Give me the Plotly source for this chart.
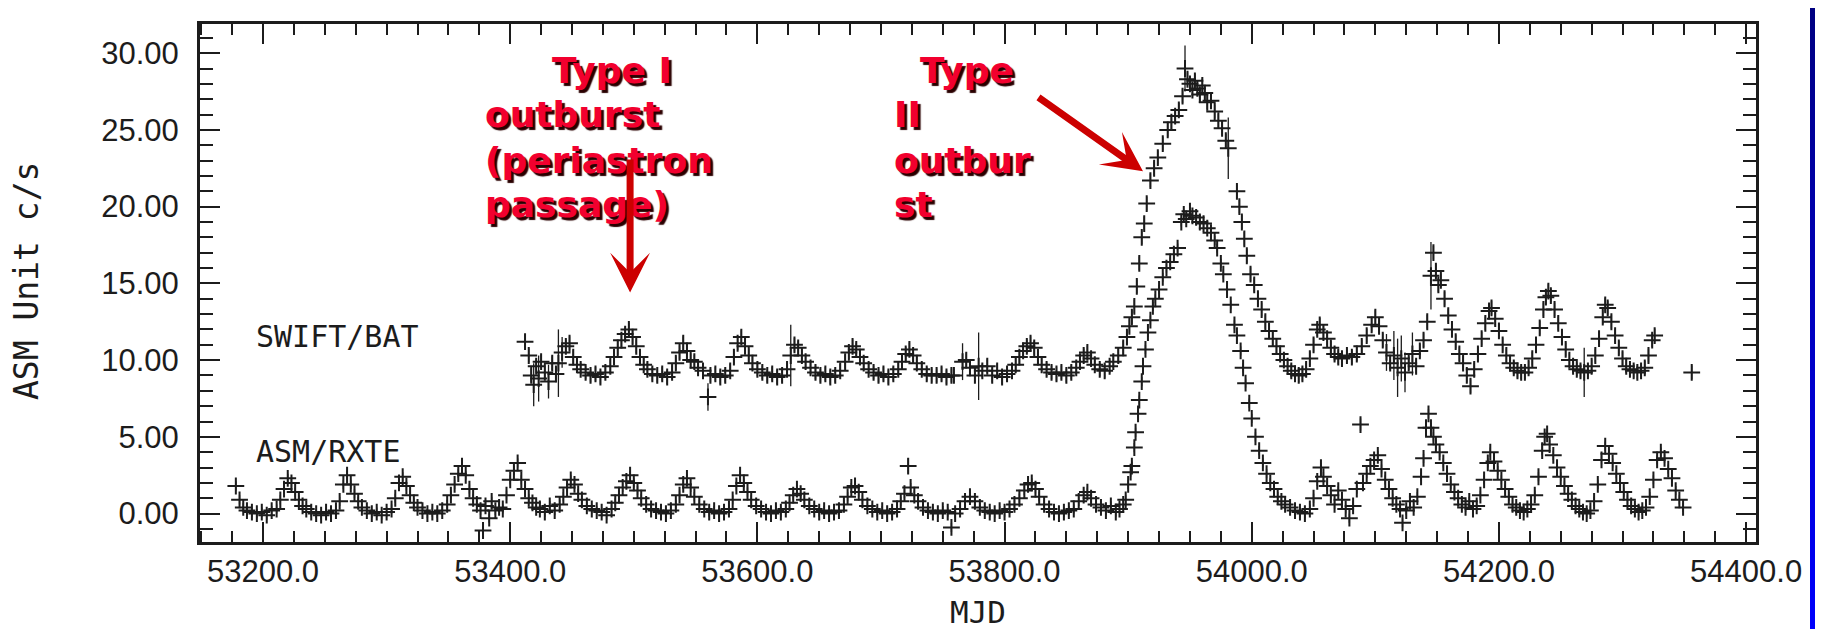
import plotly.graph_objects as go

# ---------------- data ----------------
asm_mjd = [
    53178, 53181, 53184, 53187, 53191, 53195, 53199, 53203, 53207, 53211, 53214, 53217, 53220, 53223, 53226, 53229,
    53232, 53235, 53239, 53243, 53247, 53251, 53255, 53259, 53262, 53265, 53268, 53271, 53274, 53277, 53280, 53284,
    53288, 53292, 53296, 53300, 53304, 53307, 53310, 53313, 53316, 53319, 53322, 53325, 53329, 53333, 53337, 53341,
    53345, 53349, 53352, 53355, 53358, 53361, 53364, 53367, 53370, 53373, 53376, 53378, 53380, 53383, 53385, 53388,
    53391, 53394, 53397, 53400, 53403, 53406, 53409, 53412, 53415, 53418, 53421, 53424, 53428, 53432, 53436, 53440,
    53443, 53446, 53449, 53452, 53455, 53458, 53462, 53466, 53470, 53474, 53478, 53482, 53485, 53488, 53491, 53494,
    53497, 53500, 53503, 53506, 53510, 53514, 53518, 53522, 53526, 53530, 53534, 53537, 53540, 53543, 53546, 53549,
    53553, 53557, 53561, 53565, 53569, 53573, 53577, 53580, 53583, 53586, 53589, 53592, 53595, 53599, 53603, 53607,
    53611, 53615, 53619, 53623, 53626, 53629, 53632, 53635, 53638, 53642, 53646, 53650, 53654, 53658, 53662, 53666,
    53670, 53673, 53676, 53679, 53682, 53685, 53689, 53693, 53697, 53701, 53705, 53709, 53713, 53716, 53719, 53722,
    53724, 53727, 53730, 53734, 53738, 53742, 53746, 53750, 53754, 53757, 53760, 53764, 53768, 53772, 53776, 53780,
    53784, 53788, 53792, 53796, 53800, 53804, 53808, 53812, 53816, 53819, 53822, 53825, 53828, 53832, 53836, 53840,
    53844, 53848, 53852, 53856, 53860, 53864, 53867, 53870, 53874, 53878, 53882, 53886, 53890, 53893, 53896, 53898,
    53900, 53902, 53903, 53905, 53906, 53908, 53909, 53911, 53912, 53914, 53916, 53918, 53920, 53922, 53925, 53928,
    53931, 53934, 53937, 53940, 53943, 53945, 53947, 53950, 53952, 53955, 53958, 53961, 53964, 53967, 53970, 53972,
    53975, 53977, 53980, 53983, 53986, 53988, 53991, 53993, 53995, 53998, 54000, 54003, 54006, 54009, 54012, 54015,
    54018, 54021, 54024, 54027, 54031, 54035, 54039, 54043, 54047, 54050, 54053, 54056, 54058, 54061, 54064, 54067,
    54070, 54073, 54076, 54079, 54082, 54085, 54088, 54090, 54093, 54096, 54099, 54102, 54105, 54108, 54111, 54114,
    54117, 54120, 54122, 54125, 54128, 54131, 54134, 54137, 54139, 54141, 54143, 54145, 54147, 54149, 54152, 54155,
    54158, 54161, 54164, 54167, 54170, 54173, 54176, 54179, 54182, 54185, 54188, 54191, 54193, 54196, 54199, 54202,
    54205, 54208, 54211, 54214, 54217, 54220, 54223, 54226, 54229, 54232, 54235, 54237, 54239, 54241, 54244, 54247,
    54250, 54253, 54256, 54259, 54262, 54265, 54268, 54271, 54274, 54277, 54280, 54283, 54286, 54289, 54292, 54295,
    54298, 54301, 54304, 54307, 54310, 54313, 54316, 54319, 54322, 54325, 54328, 54331, 54334, 54337, 54340, 54343,
    54346, 54349,
]
asm_rate = [
    1.8, 0.9, 0.4, 0.2, 0.1, 0.0, 0.1, -0.1, 0.2, 0.3, 0.9, 1.6, 2.3, 2.0, 1.4, 0.9,
    0.5, 0.3, 0.1, 0.0, -0.1, 0.1, 0.0, 0.2, 0.8, 1.9, 2.5, 1.9, 1.3, 0.8, 0.4, 0.2,
    0.0, 0.1, -0.1, 0.1, 0.3, 1.0, 2.0, 2.4, 1.8, 1.2, 0.7, 0.4, 0.2, 0.0, 0.1, 0.0,
    0.2, 0.6, 1.2, 1.9, 2.6, 3.1, 2.5, 1.6, 1.0, 0.6, 0.2, -1.1, 0.5, -0.3, 0.8, 0.2,
    0.4, 0.3, 1.2, 2.2, 2.8, 3.3, 2.2, 1.6, 1.0, 0.7, 0.4, 0.3, 0.1, 0.5, 0.2, 0.6,
    1.1, 1.7, 2.2, 1.9, 1.3, 0.9, 0.5, 0.3, 0.2, 0.1, -0.1, 0.3, 0.7, 1.2, 1.7, 2.1,
    2.5, 2.0, 1.5, 1.0, 0.6, 0.3, 0.2, 0.1, 0.0, 0.2, 0.6, 1.2, 1.9, 2.3, 1.7, 1.1,
    0.6, 0.3, 0.1, 0.2, 0.0, 0.1, 0.3, 0.9, 1.8, 2.5, 2.0, 1.4, 0.9, 0.5, 0.3, 0.1,
    0.0, 0.2, 0.1, 0.3, 0.7, 1.2, 1.6, 1.3, 0.9, 0.5, 0.3, 0.1, 0.2, 0.0, 0.1, 0.2,
    0.6, 1.1, 1.7, 1.8, 1.4, 0.9, 0.5, 0.3, 0.1, 0.2, 0.0, 0.1, 0.3, 0.8, 1.3, 3.1,
    1.7, 1.2, 0.8, 0.4, 0.2, 0.1, 0.0, 0.2, 0.1, -0.9, 0.0, 0.3, 0.8, 1.1, 0.8, 0.4,
    0.2, 0.1, 0.0, 0.2, 0.1, 0.3, 0.6, 1.0, 1.5, 1.9, 2.0, 1.6, 1.1, 0.6, 0.3, 0.1,
    0.0, 0.1, 0.2, 0.3, 0.8, 1.2, 1.4, 1.0, 0.6, 0.4, 0.2, 0.5, 0.1, 0.3, 0.6, 0.9,
    1.9, 2.7, 3.1, 4.3, 5.3, 6.5, 7.4, 8.6, 9.6, 10.7, 11.8, 12.6, 13.5, 14.0, 14.6, 15.4,
    16.0, 16.4, 16.9, 17.3, 19.0, 19.5, 19.2, 19.7, 19.4, 19.3, 19.0, 18.9, 18.6, 18.3, 17.8, 17.3,
    16.3, 15.6, 14.6, 13.6, 12.3, 11.6, 10.6, 9.5, 8.5, 7.2, 6.2, 5.0, 4.1, 3.3, 2.6, 2.0,
    1.6, 1.1, 0.8, 0.6, 0.4, 0.2, 0.1, 0.0, 0.3, 1.0, 2.1, 3.0, 2.4, 1.8, 1.2, 0.6,
    1.5, 0.9, 0.3, -0.3, 0.5, 1.6, 5.8, 2.0, 2.6, 3.1, 3.5, 3.8, 2.9, 2.2, 1.6, 1.0,
    0.6, 0.3, -0.6, 0.2, 0.8, 0.4, 1.1, 2.4, 3.6, 5.6, 6.5, 5.6, 5.0, 4.5, 4.0, 3.3,
    2.6, 1.9, 1.4, 1.0, 0.6, 0.4, 0.8, 0.3, 0.5, 1.2, 2.2, 3.3, 4.0, 3.4, 2.8, 2.2,
    1.6, 1.1, 0.6, 0.4, 0.2, 0.1, 0.3, 0.6, 1.2, 2.4, 4.1, 5.0, 5.2, 4.5, 3.8, 3.0,
    2.4, 1.8, 1.3, 0.9, 0.5, 0.3, 0.1, 0.0, 0.2, 0.8, 1.9, 3.5, 4.4, 3.9, 3.3, 2.6,
    2.0, 1.4, 0.9, 0.5, 0.3, 0.1, 0.2, 0.4, 1.1, 2.2, 3.5, 4.0, 3.6, 2.9, 2.3, 1.5,
    0.9, 0.4,
]

bat_mjd = [
    53412, 53415, 53417, 53419, 53421, 53423, 53425, 53428, 53431, 53434, 53437, 53439, 53442, 53445, 53448, 53451,
    53454, 53457, 53461, 53465, 53469, 53473, 53477, 53481, 53484, 53487, 53490, 53493, 53496, 53499, 53502, 53505,
    53508, 53511, 53515, 53519, 53523, 53527, 53531, 53534, 53537, 53540, 53543, 53546, 53549, 53552, 53556, 53560,
    53562, 53566, 53570, 53574, 53578, 53581, 53584, 53587, 53590, 53593, 53596, 53600, 53604, 53608, 53612, 53616,
    53620, 53624, 53627, 53630, 53633, 53636, 53639, 53643, 53647, 53651, 53655, 53659, 53663, 53667, 53671, 53674,
    53677, 53680, 53683, 53686, 53690, 53694, 53698, 53702, 53706, 53710, 53714, 53717, 53720, 53723, 53726, 53729,
    53733, 53737, 53741, 53745, 53749, 53753, 53757, 53759, 53766, 53769, 53772, 53776, 53779, 53782, 53786, 53790,
    53794, 53798, 53802, 53806, 53809, 53812, 53815, 53818, 53821, 53824, 53827, 53830, 53834, 53838, 53842, 53846,
    53850, 53854, 53858, 53861, 53864, 53867, 53870, 53873, 53877, 53881, 53885, 53888, 53892, 53896, 53899, 53901,
    53903, 53905, 53907, 53909, 53911, 53913, 53915, 53918, 53921, 53924, 53928, 53932, 53935, 53938, 53941, 53944,
    53946, 53948, 53950, 53952, 53954, 53956, 53958, 53960, 53962, 53964, 53967, 53970, 53973, 53976, 53979, 53981,
    53988, 53990, 53992, 53994, 53996, 53999, 54002, 54005, 54008, 54011, 54014, 54017, 54020, 54023, 54026, 54029,
    54032, 54035, 54038, 54041, 54044, 54047, 54050, 54053, 54055, 54058, 54061, 54064, 54067, 54070, 54073, 54077,
    54081, 54085, 54089, 54093, 54097, 54100, 54103, 54106, 54109, 54112, 54115, 54118, 54121, 54124, 54127, 54130,
    54133, 54136, 54139, 54142, 54145, 54147, 54149, 54151, 54153, 54156, 54159, 54162, 54165, 54168, 54171, 54174,
    54177, 54180, 54183, 54186, 54189, 54192, 54194, 54197, 54200, 54203, 54206, 54209, 54212, 54215, 54218, 54221,
    54224, 54227, 54230, 54233, 54236, 54238, 54240, 54242, 54245, 54248, 54251, 54254, 54257, 54260, 54263, 54266,
    54269, 54272, 54275, 54278, 54281, 54284, 54286, 54288, 54291, 54294, 54297, 54300, 54303, 54306, 54309, 54312,
    54315, 54318, 54321, 54324, 54326, 54356,
]
bat_rate = [
    11.2, 10.3, 9.0, 8.4, 9.6, 8.8, 9.9, 9.2, 8.6, 9.8, 9.1, 9.8, 10.5, 10.9, 11.1, 10.2,
    9.7, 9.4, 9.2, 9.0, 9.1, 8.9, 9.2, 9.6, 10.2, 10.8, 11.3, 11.7, 12.0, 11.5, 10.9, 10.2,
    9.7, 9.4, 9.1, 9.0, 9.1, 8.9, 9.2, 9.8, 10.5, 11.1, 10.6, 10.0, 9.9, 9.5, 9.3, 7.6,
    9.0, 9.1, 8.9, 9.0, 9.3, 10.2, 11.1, 11.5, 10.9, 10.3, 9.8, 9.4, 9.2, 9.0, 9.1, 8.9,
    9.0, 9.4, 10.3, 11.0, 10.8, 10.3, 9.9, 9.5, 9.2, 9.0, 9.1, 8.9, 9.0, 9.3, 9.9, 10.5,
    10.9, 10.7, 10.2, 9.8, 9.4, 9.2, 9.0, 9.1, 8.9, 9.1, 9.4, 9.9, 10.4, 10.7, 10.3, 9.8,
    9.4, 9.1, 9.0, 9.0, 9.1, 8.9, 9.0, 9.0, 9.9, 10.0, 9.5, 9.0, 9.6, 9.3, 9.6, 9.0,
    9.3, 8.9, 9.1, 9.3, 9.7, 10.2, 10.6, 10.9, 11.1, 10.8, 10.2, 9.7, 9.4, 9.2, 9.1, 9.2,
    9.0, 9.2, 9.5, 9.9, 10.3, 10.5, 10.1, 9.7, 9.4, 9.3, 9.6, 9.9, 10.3, 10.8, 11.5, 12.2,
    12.8, 13.5, 14.8, 16.3, 18.0, 18.9, 20.2, 21.7, 22.5, 23.2, 24.1, 25.0, 25.5, 25.9, 26.3, 27.2,
    29.0, 28.3, 28.0, 27.6, 28.2, 27.7, 27.3, 27.9, 27.4, 26.8, 26.9, 26.2, 25.6, 25.1, 24.3, 23.8,
    21.0, 20.0, 19.0, 17.9, 16.8, 15.6, 14.9, 14.0, 13.3, 12.5, 11.9, 11.4, 10.9, 10.4, 10.0, 9.6,
    9.3, 9.1, 9.0, 9.1, 9.4, 10.1, 11.0, 12.0, 12.3, 11.8, 11.4, 10.8, 10.4, 10.2, 10.1, 10.3,
    10.2, 10.4, 10.9, 11.6, 12.3, 12.8, 12.2, 11.3, 10.5, 9.8, 10.3, 9.5, 10.1, 9.2, 9.8, 10.4,
    9.6, 10.6, 11.3, 12.5, 15.5, 17.0, 15.8, 14.9, 15.2, 14.0, 12.9, 12.0, 11.2, 10.4, 9.8, 9.0,
    8.3, 9.4, 10.4, 11.4, 12.4, 13.2, 13.4, 12.7, 11.9, 11.0, 10.3, 9.8, 9.5, 9.3, 9.2, 9.2,
    9.5, 10.1, 11.0, 12.1, 13.3, 14.1, 14.5, 14.2, 13.3, 12.4, 11.5, 10.7, 10.0, 9.6, 9.4, 9.3,
    9.2, 9.3, 9.6, 10.3, 11.4, 12.8, 13.6, 13.4, 12.5, 11.6, 10.8, 10.1, 9.6, 9.4, 9.3, 9.2,
    9.3, 9.5, 10.3, 11.3, 11.6, 9.2,
]

# typical 1-sigma errors, plus the points with visibly long error bars
asm_err_typ = 0.3
asm_wide_err_mjd = [53722, 54088]
asm_wide_err = [0.5, 0.4]
bat_err_typ = 0.45
bat_wide_err_mjd = [53419, 53423, 53431, 53439, 53442, 53560, 53627, 53766, 53779, 53946,
                    53981, 54109, 54115, 54118, 54121, 54124, 54130, 54145, 54269]
bat_wide_err = [1.4, 1.5, 1.1, 2.2, 1.0, 0.9, 2.0, 1.2, 2.2, 1.5,
                2.0, 1.2, 1.6, 1.9, 1.5, 1.3, 1.4, 2.2, 1.6]

x_ticks = [53200, 53400, 53600, 53800, 54000, 54200, 54400]
y_ticks = [0, 5, 10, 15, 20, 25, 30]

# ---------------- figure ----------------
asm_wide = dict(zip(asm_wide_err_mjd, asm_wide_err))
bat_wide = dict(zip(bat_wide_err_mjd, bat_wide_err))
asm_err = [asm_wide.get(m, asm_err_typ) for m in asm_mjd]
bat_err = [bat_wide.get(m, bat_err_typ) for m in bat_mjd]

# the page body has an 8px margin: size the figure so the page does not overflow
OFF = 8
W, H = 1823 - 2 * OFF, 637 - 2 * OFF
# plot frame on screen: x 200..1756, y 24..542
L, T = 200 - OFF, 24 - OFF
PW, PH = 1556, 518
R, B = W - L - PW, H - T - PH


def px(sx):
    """screen x -> paper x"""
    return (sx - OFF - L) / PW


def py(sy):
    """screen y -> paper y"""
    return (T + PH - (sy - OFF)) / PH


ink = "#1c1c1c"
marker = dict(symbol="cross-thin", size=12, color=ink, line=dict(color=ink, width=2))

fig = go.Figure()
fig.add_trace(go.Scatter(
    x=asm_mjd, y=asm_rate, mode="markers", name="ASM/RXTE", marker=marker,
    error_y=dict(type="data", array=asm_err, thickness=1.3, width=0, color=ink),
))
fig.add_trace(go.Scatter(
    x=bat_mjd, y=bat_rate, mode="markers", name="SWIFT/BAT", marker=marker,
    error_y=dict(type="data", array=bat_err, thickness=1.3, width=0, color=ink),
))

# background: blue vertical gradient frame + white panel
shapes = []
nb = 48
for i in range(nb):
    t0 = i / nb
    t1 = (i + 1) / nb
    c = int(128 + 127 * (t0 + t1) / 2)
    shapes.append(dict(type="rect", xref="paper", yref="paper", layer="below",
                       x0=px(0), x1=px(1823), y0=py(t0 * 637 - 0.5), y1=py(t1 * 637 + 0.5),
                       fillcolor=f"rgb(0,0,{c})", line=dict(width=0)))
shapes.append(dict(type="rect", xref="paper", yref="paper", layer="below",
                   x0=px(0), x1=px(1810), y0=py(640), y1=py(0),
                   fillcolor="white", line=dict(width=0)))

tickfont = dict(family="Liberation Sans, Arial, sans-serif", size=31, color=ink)
mono = "DejaVu Sans Mono, Liberation Mono, monospace"
red = "#F2002E"
redfont = dict(family="DejaVu Sans, Verdana, sans-serif", size=36, color=red,
               weight="bold", shadow="3px 3px 1px #2a0000")

annotations = [
    dict(text="ASM Unit c/s", xref="paper", yref="paper", x=px(26), y=py(281), textangle=-90,
         xanchor="center", yanchor="middle",
         showarrow=False, font=dict(family=mono, size=33, color=ink)),
    dict(text="MJD", xref="paper", yref="paper", x=px(978), y=py(612),
         xanchor="center", yanchor="middle",
         showarrow=False, font=dict(family=mono, size=31, color=ink)),
    dict(text="SWIFT/BAT", xref="paper", yref="paper", x=px(254), y=py(336),
         xanchor="left", yanchor="middle",
         showarrow=False, font=dict(family=mono, size=30, color=ink)),
    dict(text="ASM/RXTE", xref="paper", yref="paper", x=px(254), y=py(451),
         xanchor="left", yanchor="middle",
         showarrow=False, font=dict(family=mono, size=30, color=ink)),
]
red_lines = [
    ("Type I", 550, 70), ("outburst", 483, 115), ("(periastron", 483, 160), ("passage)", 483, 205),
    ("Type", 918, 70), ("II", 892, 115), ("outbur", 892, 160), ("st", 892, 205),
]
for txt, xl, yc in red_lines:
    annotations.append(dict(text=txt, xref="paper", yref="paper", x=px(xl), y=py(yc),
                            xanchor="left", yanchor="middle", showarrow=False, font=redfont))

# arrows (tip placed on the light curve, tail offset in pixels)
arrow_color = "#CC0000"
annotations.append(dict(text=" ", x=53497, y=14.4, xref="x", yref="y", ax=0, ay=-135,
                        showarrow=True, arrowhead=3, arrowwidth=7, arrowsize=0.95,
                        arrowcolor=arrow_color, font=dict(size=1), standoff=0))
annotations.append(dict(text=" ", x=53912, y=22.3, xref="x", yref="y", ax=-106, ay=-75,
                        showarrow=True, arrowhead=3, arrowwidth=7, arrowsize=0.95,
                        arrowcolor=arrow_color, font=dict(size=1), standoff=0))

axis_common = dict(
    ticks="inside", ticklen=20, tickwidth=2, tickcolor=ink,
    showline=True, linewidth=3, linecolor=ink, mirror="allticks",
    showgrid=False, zeroline=False, tickfont=tickfont, automargin=False,
)

fig.update_layout(
    width=W, height=H,
    margin=dict(l=L, r=R, t=T, b=B, pad=0),
    paper_bgcolor="white", plot_bgcolor="rgba(0,0,0,0)",
    showlegend=False,
    shapes=shapes, annotations=annotations,
    xaxis=dict(range=[53149, 54408], tickmode="array", tickvals=x_ticks,
               ticktext=[f"{v:.1f}" for v in x_ticks], ticklabelstandoff=0,
               minor=dict(dtick=25, tick0=53200, ticks="inside", ticklen=11, tickwidth=2,
                          tickcolor=ink, showgrid=False),
               **axis_common),
    yaxis=dict(range=[-1.85, 31.9], tickmode="array", tickvals=y_ticks,
               ticktext=[f"{v:.2f}" for v in y_ticks], ticklabelstandoff=12,
               minor=dict(dtick=1, tick0=0, ticks="inside", ticklen=13, tickwidth=2,
                          tickcolor=ink, showgrid=False),
               **axis_common),
)

fig.write_html("out.html")
